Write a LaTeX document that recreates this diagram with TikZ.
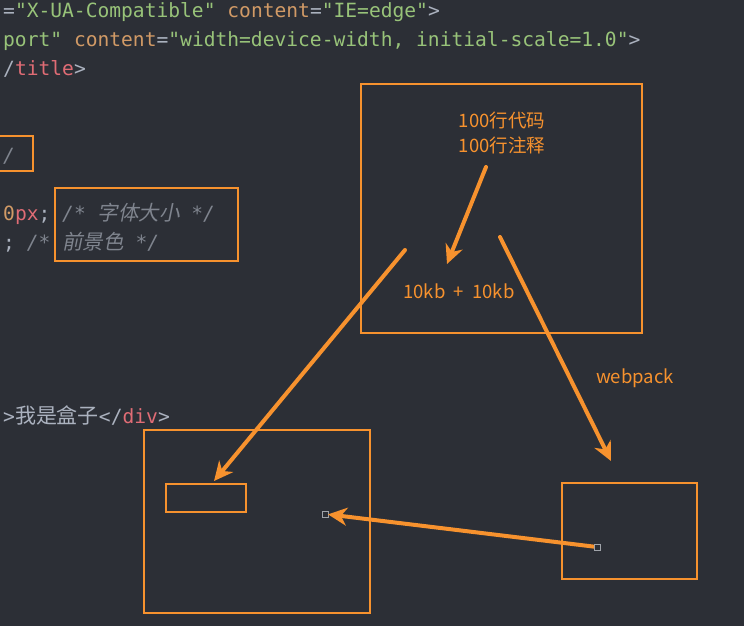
\documentclass[tikz,border=0pt]{standalone}
\usepackage{fontspec}
\setmainfont{Noto Sans CJK SC}
\setmonofont{DejaVu Sans Mono}
\newfontfamily\cjk{Noto Sans CJK SC}
\newfontfamily\cjkit[FakeSlant=0.2]{Noto Sans CJK SC}
\usetikzlibrary{arrows.meta}
\definecolor{bg}{HTML}{2C2F36}
\definecolor{org}{HTML}{F7922E}
\definecolor{cgreen}{HTML}{98C379}
\definecolor{cattr}{HTML}{D19A66}
\definecolor{cred}{HTML}{E06C75}
\definecolor{cgray}{HTML}{ABB2BF}
\definecolor{ccom}{HTML}{7F848E}
\definecolor{hgray}{HTML}{A0A4AA}
\tikzset{
  codeline/.style={anchor=base west, inner sep=0pt, font=\ttfamily\fontsize{19.6}{24}\selectfont, text=cgray},
  box/.style={draw=org, line width=2pt, anchor=north west, inner sep=0pt, outer sep=0pt},
  lbl/.style={anchor=base, inner sep=0pt, text=org, font=\cjk\fontsize{18.5}{22}\selectfont},
  arr/.style={draw=org, line width=4pt, line cap=round, -{Stealth[length=19pt,width=18pt,inset=6pt]}},
  handle/.style={draw=hgray, line width=1pt, fill=bg, minimum size=6pt, inner sep=0pt, outer sep=0pt}
}
\begin{document}
\begin{tikzpicture}[x=1pt,y=-1pt]
\useasboundingbox (0,0) rectangle (744,626);
\fill[bg] (0,0) rectangle (744,626);
\clip (0,0) rectangle (744,626);
% code lines
\node[codeline] (l1) at (3,18) {=\textcolor{cgreen}{"X-UA-Compatible"} \textcolor{cattr}{content}=\textcolor{cgreen}{"IE=edge"}>};
\node[codeline] (l2) at (3,46.9) {\textcolor{cgreen}{port"} \textcolor{cattr}{content}=\textcolor{cgreen}{"width=device-width, initial-scale=1.0"}>};
\node[codeline] (l3) at (3,75.8) {/\textcolor{cred}{title}>};
\node[codeline] (l5) at (3,162.5) {\textcolor{ccom}{\itshape /}};
\node[codeline] (l7) at (3,220.3) {\textcolor{cattr}{0}\textcolor{cred}{px}; \textcolor{ccom}{\itshape /* {\cjkit\fontsize{20.5}{24}\selectfont 字体大小} */}};
\node[codeline] (l8) at (3,249.2) {; \textcolor{ccom}{\itshape /* {\cjkit\fontsize{20.5}{24}\selectfont 前景色} */}};
\node[codeline] (l14) at (3,423) {>{\cjk\fontsize{21}{24}\selectfont 我是盒子}</\textcolor{cred}{div}>};
% boxes
\node[box, minimum width=43pt, minimum height=35pt] (tlbox) at (-10,136) {};
\node[box, minimum width=183pt, minimum height=73pt] (combox) at (55,188) {};
\node[box, minimum width=281pt, minimum height=249pt] (big) at (361,84) {};
\node[box, minimum width=226pt, minimum height=183pt] (bl) at (144,430) {};
\node[box, minimum width=80pt, minimum height=28pt] (inner) at (166,484) {};
\node[box, minimum width=135pt, minimum height=96pt] (br) at (562,483) {};
% labels
\node[lbl] (t1) at (502,127) {100行代码};
\node[lbl] (t2) at (502,152) {100行注释};
\node[lbl] (t3) at (459,298) {10kb\hspace{0.45em}+\hspace{0.45em}10kb};
\node[lbl] (t4) at (635,383) {webpack};
% arrows
\coordinate (a1s) at (486,167);
\coordinate (a1e) at (447,264);
\coordinate (a2s) at (405,250);
\coordinate (a2e) at (214,481);
\coordinate (a3s) at (500,237);
\coordinate (a3e) at (611,461);
\draw[arr] (a1s) -- (a1e);
\draw[arr] (a2s) -- (a2e);
\draw[arr] (a3s) -- (a3e);
\node[handle] (hs) at (597,547) {};
\node[handle] (he) at (325,514) {};
\draw[arr] (hs) -- (he);
\node[handle] at (597,547) {};
\end{tikzpicture}
\end{document}
